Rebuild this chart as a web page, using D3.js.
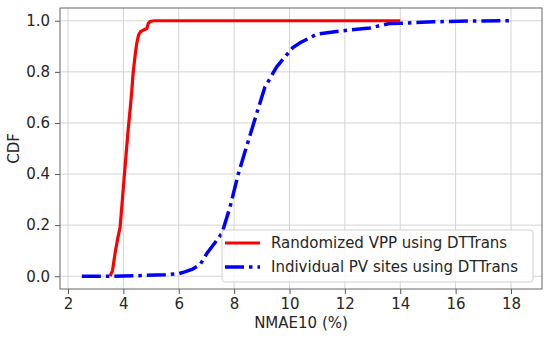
<!DOCTYPE html>
<html>
	<head>
		<meta charset="utf-8" />
		<title>CDF of NMAE10</title>
		<style>
			body { margin: 0; background: #fff; }
			#chart svg { display: block; }
			#chart text { font-family: "DejaVu Sans", sans-serif; fill: #262626; }
		</style>
	</head>
	<body>
		<div id="chart"></div>
		<script src="https://cdnjs.cloudflare.com/ajax/libs/d3/7.8.5/d3.min.js"></script>
		<script>
			// values
			var vppX = [3.52, 3.61, 3.70, 3.80, 3.88, 3.95, 4.02, 4.10, 4.17, 4.24, 4.30, 4.35, 4.42, 4.48, 4.55, 4.62, 4.75, 4.85, 4.90, 4.96, 5.10, 14.0];
			var vppY = [0, 0.023, 0.09, 0.15, 0.19, 0.28, 0.375, 0.48, 0.57, 0.648, 0.72, 0.793, 0.86, 0.91, 0.945, 0.957, 0.965, 0.97, 0.99, 0.997, 1, 1];
			var pvX = [2.5, 3.5, 4.5, 5.5, 6.0, 6.22, 6.5, 6.77, 7.02, 7.3, 7.56, 7.85, 8.15, 8.4, 8.71, 9.11, 9.54, 10.12, 10.4, 10.85, 11.0, 11.5, 11.93, 12.9, 13.6, 14.0, 15.2, 16.5, 18.07];
			var pvY = [0, 0, 0.002, 0.006, 0.01, 0.017, 0.028, 0.045, 0.09, 0.13, 0.168, 0.27, 0.40, 0.49, 0.6, 0.74, 0.82, 0.895, 0.915, 0.94, 0.948, 0.955, 0.961, 0.972, 0.989, 0.99, 0.996, 0.999, 1];
			var xTicks = [2, 4, 6, 8, 10, 12, 14, 16, 18];
			var yTicks = [0, 0.2, 0.4, 0.6, 0.8, 1.0];
			var seriesNames = ["Randomized VPP using DTTrans", "Individual PV sites using DTTrans"];

			!(function(){
				var width = 550, height = 338;
				var margin = {top: 8, left: 60, right: 8, bottom: 49};
				var svg = d3.select("#chart").append("svg")
					.attr("width", width)
					.attr("height", height);

				var x = d3.scaleLinear().domain([1.711, 19.12]).range([margin.left, width - margin.right]);
				var y = d3.scaleLinear().domain([-0.05, 1.05]).range([height - margin.bottom, margin.top]);

				// grid
				svg.append("g").selectAll("line").data(xTicks).enter().append("line")
					.attr("x1", function(d){ return x(d); }).attr("x2", function(d){ return x(d); })
					.attr("y1", y.range()[0]).attr("y2", y.range()[1])
					.attr("stroke", "#d4d4d4").attr("stroke-width", 1);
				svg.append("g").selectAll("line").data(yTicks).enter().append("line")
					.attr("y1", function(d){ return y(d); }).attr("y2", function(d){ return y(d); })
					.attr("x1", x.range()[0]).attr("x2", x.range()[1])
					.attr("stroke", "#d4d4d4").attr("stroke-width", 1);

				// axes
				var xAxis = svg.append("g")
					.attr("transform", "translate(0," + y.range()[0] + ")")
					.call(d3.axisBottom(x).tickValues(xTicks).tickSize(5).tickPadding(4).tickFormat(d3.format("d")));
				var yAxis = svg.append("g")
					.attr("transform", "translate(" + x.range()[0] + ",0)")
					.call(d3.axisLeft(y).tickValues(yTicks).tickSize(5).tickPadding(5).tickFormat(d3.format(".1f")));
				[xAxis, yAxis].forEach(function(a){
					a.select(".domain").remove();
					a.selectAll(".tick line").attr("stroke", "#555");
					a.selectAll(".tick text").style("font-size", "15px").attr("fill", "#262626");
				});

				// frame
				svg.append("rect")
					.attr("x", x.range()[0]).attr("y", y.range()[1])
					.attr("width", x.range()[1] - x.range()[0])
					.attr("height", y.range()[0] - y.range()[1])
					.attr("fill", "none").attr("stroke", "#666").attr("stroke-width", 1);

				var line = d3.line()
					.x(function(d){ return x(d[0]); })
					.y(function(d){ return y(d[1]); });

				var vpp = d3.zip(vppX, vppY);
				var pv = d3.zip(pvX, pvY);

				svg.append("path").datum(pv)
					.attr("d", line)
					.attr("fill", "none").attr("stroke", "#0000ff")
					.attr("stroke-width", 3.5)
					.attr("stroke-dasharray", "19,5,3.5,5");
				svg.append("path").datum(vpp)
					.attr("d", line)
					.attr("fill", "none").attr("stroke", "#ff0000")
					.attr("stroke-width", 3.2)
					.attr("stroke-linejoin", "round");

				// labels
				svg.append("text")
					.attr("x", (x.range()[0] + x.range()[1]) / 2)
					.attr("y", 328)
					.attr("text-anchor", "middle")
					.style("font-size", "15px")
					.text("NMAE10 (%)");
				svg.append("text")
					.attr("transform", "translate(19," + y(0.5) + ") rotate(-90)")
					.attr("text-anchor", "middle")
					.style("font-size", "15px")
					.text("CDF");

				// legend
				var lg = svg.append("g").attr("transform", "translate(222,230)");
				lg.append("rect")
					.attr("width", 311).attr("height", 52)
					.attr("rx", 3)
					.attr("fill", "#fff").attr("fill-opacity", 0.85)
					.attr("stroke", "#d0d0d0");
				var rows = lg.selectAll("g.row").data(seriesNames).enter().append("g")
					.attr("transform", function(d, i){ return "translate(0," + (13 + i * 24) + ")"; });
				rows.append("line")
					.attr("x1", 3).attr("x2", 38)
					.attr("stroke", function(d, i){ return i ? "#0000ff" : "#ff0000"; })
					.attr("stroke-width", function(d, i){ return i ? 3.5 : 3.2; })
					.attr("stroke-dasharray", function(d, i){ return i ? "19,5,3.5,5" : null; });
				rows.append("text")
					.attr("x", 49).attr("dy", "0.35em")
					.style("font-size", "15px")
					.text(function(d){ return d; });
			}());
		</script>
	</body>
</html>
